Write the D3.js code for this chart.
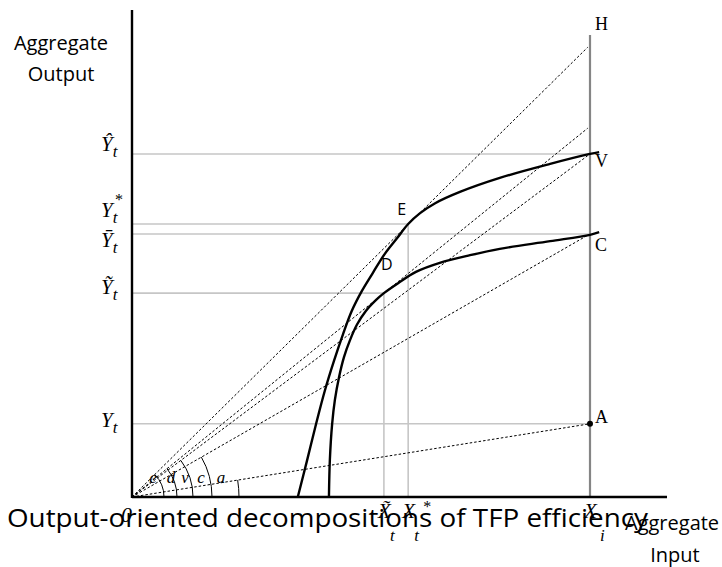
<!DOCTYPE html>
<html>
<head>
<meta charset="utf-8">
<script src="https://cdn.jsdelivr.net/npm/d3@7"></script>
<style>
  body { margin: 0; background: #fff; }
  svg { display: block; }
  .serif { font-family: "Liberation Serif", "DejaVu Serif", serif; }
  .sans { font-family: "Open Sans", "Liberation Sans", sans-serif; }
</style>
</head>
<body>
<svg id="chart" width="722" height="567"></svg>
<script>
'use strict'

// output levels (y) and where their guide lines stop (x)
const outputLevels = [75.9, 60.4, 58.2, 45.1, 16.2]
const outputMarks = ['hat', 'star', 'bar', 'tilde', 'plain']
const outputLineEnds = [100, 60.3, 100, 55, 100]

// input levels on the x axis
const inputLevels = [55, 60.3, 100]
const inputMarks = ['tilde', 'star', 'plain']
const inputSubs = ['t', 't', 'i']
const inputLineTops = [45.1, 60.4, 102.2]

// frontier curves
const outerFrontier = [[36.2, 0], [38.2, 8.0], [40.2, 16.2], [42.1, 23.5], [44.1, 30.1], [46.1, 36.1],
  [48.0, 41.2], [50.2, 45.6], [52.6, 49.6], [55.2, 53.8], [57.9, 57.3], [60.3, 60.4], [62.9, 62.8],
  [66.2, 65.0], [71.6, 67.5], [80.3, 70.6], [91.3, 73.7], [100, 75.9], [102, 76.3]]
const innerFrontier = [[43.0, 0], [43.2, 8.2], [43.7, 16.2], [44.3, 21.5], [45.2, 26.5], [46.3, 31.0],
  [47.6, 34.7], [49.1, 38.1], [51.1, 41.2], [53.3, 43.6], [55.0, 45.1], [58.1, 47.3], [62.0, 49.8],
  [67.2, 51.8], [73.8, 53.5], [80.3, 54.9], [91.3, 56.6], [100, 58.0], [102, 58.6]]

// rays from the origin, end heights at x = 100, and their angle names
const rayEnds = [100, 82, 75.9, 58.2, 16.2]
const angleNames = ['e', 'd', 'v', 'c', 'a']

// named points
const points = [
  { name: 'H', x: 100, y: 102.2 },
  { name: 'V', x: 100, y: 75.9 },
  { name: 'C', x: 100, y: 58.2 },
  { name: 'A', x: 100, y: 16.2 },
  { name: 'E', x: 60.3, y: 60.4 },
  { name: 'D', x: 55, y: 45.1 }
]

const svg = d3.select('#chart')
const x = d3.scaleLinear().domain([0, 100]).range([132, 590])
const y = d3.scaleLinear().domain([0, 100]).range([497, 45])

// light guide lines
svg.append('g').selectAll('line')
  .data(outputLevels)
  .enter().append('line')
  .attr('x1', x(0)).attr('x2', (d, i) => x(outputLineEnds[i]))
  .attr('y1', d => y(d)).attr('y2', d => y(d))
  .attr('stroke', '#c6c6c6').attr('stroke-width', 1.6)

svg.append('g').selectAll('line')
  .data(inputLevels.slice(0, 2))
  .enter().append('line')
  .attr('x1', d => x(d)).attr('x2', d => x(d))
  .attr('y1', y(0)).attr('y2', (d, i) => y(inputLineTops[i]))
  .attr('stroke', '#c6c6c6').attr('stroke-width', 1.6)

// the darker vertical at X_i
svg.append('line')
  .attr('x1', x(100)).attr('x2', x(100))
  .attr('y1', y(0)).attr('y2', y(inputLineTops[2]))
  .attr('stroke', '#858585').attr('stroke-width', 2.2)

// rays
svg.append('g').selectAll('line')
  .data(rayEnds)
  .enter().append('line')
  .attr('x1', x(0)).attr('y1', y(0))
  .attr('x2', x(99.5)).attr('y2', d => y(d * 0.995))
  .attr('stroke', '#000').attr('stroke-width', 1)
  .attr('stroke-dasharray', '2.5,2')

// angle arcs
const radii = [32, 45, 61, 80, 107]
const arcG = svg.append('g')
rayEnds.forEach((d, i) => {
  const th = Math.atan2(y(0) - y(d), x(100) - x(0))
  const r = radii[i]
  const x0 = x(0), y0 = y(0)
  arcG.append('path')
    .attr('d', `M${x0 + r},${y0} A${r},${r} 0 0 0 ${x0 + r * Math.cos(th)},${y0 - r * Math.sin(th)}`)
    .attr('fill', 'none').attr('stroke', '#000').attr('stroke-width', 1)
})
const angleLabelX = [153, 171, 185, 201, 221]
arcG.selectAll('text')
  .data(angleNames)
  .enter().append('text')
  .attr('class', 'serif')
  .attr('x', (d, i) => angleLabelX[i]).attr('y', 483)
  .attr('text-anchor', 'middle')
  .attr('font-style', 'italic').attr('font-size', 17)
  .text(d => d)

// frontiers
const line = d3.line().x(d => x(d[0])).y(d => y(d[1])).curve(d3.curveCatmullRom.alpha(0.5))
svg.append('path').datum(outerFrontier).attr('d', line)
  .attr('fill', 'none').attr('stroke', '#000').attr('stroke-width', 2.4)
svg.append('path').datum(innerFrontier).attr('d', line)
  .attr('fill', 'none').attr('stroke', '#000').attr('stroke-width', 2.4)

// axes
svg.append('line').attr('x1', x(0)).attr('x2', x(0)).attr('y1', y(0) + 1).attr('y2', 10)
  .attr('stroke', '#000').attr('stroke-width', 2.4)
svg.append('line').attr('x1', x(0)).attr('x2', 667).attr('y1', y(0)).attr('y2', y(0))
  .attr('stroke', '#000').attr('stroke-width', 2.4)

// point A
svg.append('circle').attr('cx', x(100)).attr('cy', y(16.2)).attr('r', 3).attr('fill', '#000')

// point labels
const pointG = svg.append('g')
points.forEach(p => {
  const serif = ['H', 'V', 'C', 'A'].includes(p.name)
  const off = { H: [5, -5], V: [5, 13], C: [5, 17], A: [5, -1], E: [-11, -9], D: [-3, -23] }[p.name]
  pointG.append('text')
    .attr('class', serif ? 'serif' : 'sans')
    .attr('x', x(p.x) + off[0]).attr('y', y(p.y) + off[1])
    .attr('font-size', serif ? 18 : 16)
    .text(p.name)
})

// y labels
const accent = { hat: '\u0302', tilde: '\u0303', bar: '\u0304', star: '', plain: '' }
const yLab = svg.append('g').attr('class', 'serif').attr('font-style', 'italic')
outputLevels.forEach((v, i) => {
  const m = outputMarks[i]
  const base = { hat: 151, star: 217, bar: 247, tilde: 294, plain: 427 }[m]
  const t = yLab.append('text').attr('x', 101).attr('y', base).attr('font-size', 21)
  t.append('tspan').text('Y' + accent[m])
  t.append('tspan').attr('font-size', 17).attr('dy', 6).text('t')
  if (m === 'star') {
    yLab.append('text').attr('x', 115).attr('y', 205).attr('font-size', 16).attr('font-style', 'normal').text('*')
  }
})

// x labels
const xLab = svg.append('g').attr('class', 'serif').attr('font-style', 'italic')
inputLevels.forEach((v, i) => {
  const m = inputMarks[i]
  const cx = x(v)
  xLab.append('text').attr('x', cx - 6).attr('y', 518).attr('font-size', 21)
    .text('X' + accent[m])
  xLab.append('text').attr('x', cx + (i === 2 ? 10 : 6)).attr('y', 541).attr('font-size', 17)
    .text(inputSubs[i])
  if (m === 'star') {
    xLab.append('text').attr('x', cx + 15).attr('y', 512).attr('font-size', 16).attr('font-style', 'normal').text('*')
  }
})

// origin
svg.append('text').attr('class', 'serif').attr('font-style', 'italic')
  .attr('x', 121).attr('y', 522).attr('font-size', 22).text('0')

// axis titles
const axisTitles = svg.append('g').attr('class', 'sans').attr('font-size', 20).attr('fill', '#000')
axisTitles.append('text').attr('x', 61).attr('y', 50).attr('text-anchor', 'middle').text('Aggregate')
axisTitles.append('text').attr('x', 61).attr('y', 81).attr('text-anchor', 'middle').text('Output')
axisTitles.append('text').attr('x', 625).attr('y', 530).text('Aggregate')
axisTitles.append('text').attr('x', 675).attr('y', 562).attr('text-anchor', 'middle').text('Input')

// caption
svg.append('text').attr('class', 'sans')
  .attr('x', 7).attr('y', 527).attr('font-size', 26)
  .attr('textLength', 641).attr('lengthAdjust', 'spacingAndGlyphs')
  .text('Output-oriented decompositions of TFP efficiency')
</script>
</body>
</html>
